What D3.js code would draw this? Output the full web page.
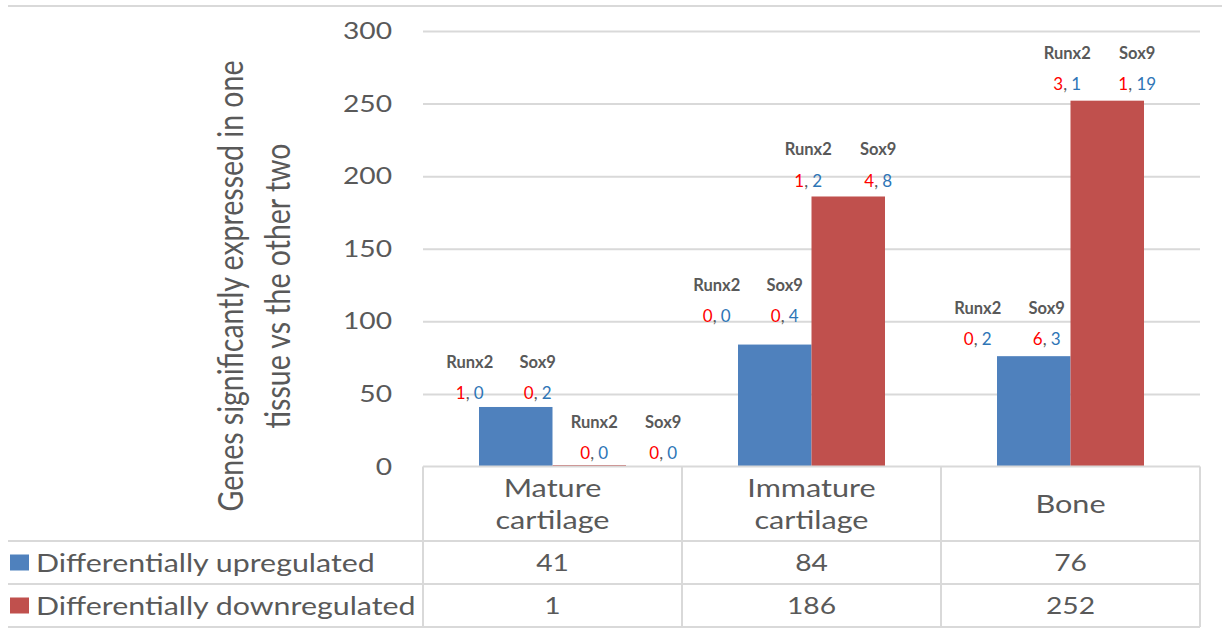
<!DOCTYPE html>
<html>
<head>
<meta charset="utf-8">
<script src="https://cdn.jsdelivr.net/npm/d3@7"></script>
<style>
  html, body { margin: 0; padding: 0; background: #ffffff; }
  svg { display: block; font-family: Lato, "Open Sans", sans-serif; }
</style>
</head>
<body>
<svg id="chart" width="1222" height="631"></svg>
<script>
// ---- data ----
const categories = ["Mature cartilage", "Immature cartilage", "Bone"];
const categoryLines = [["Mature", "cartilage"], ["Immature", "cartilage"], ["Bone"]];
const seriesKeys = ["up", "down"];
const seriesNames = ["Differentially upregulated", "Differentially downregulated"];
const upregulated = [41, 84, 76];
const downregulated = [1, 186, 252];
const yTicks = [0, 50, 100, 150, 200, 250, 300];
const geneNames = ["Runx2", "Sox9"];
// gene counts per bar, as [red count, blue count]
const runx2Up = [[1, 0], [0, 0], [0, 2]];
const sox9Up = [[0, 2], [0, 4], [6, 3]];
const runx2Down = [[0, 0], [1, 2], [3, 1]];
const sox9Down = [[0, 0], [4, 8], [1, 19]];

// ---- layout & style ----
const SX = 1.2; // horizontal stretch of the chart text
const colors = { up: "#4f81bd", down: "#c0504d" };
const gridColor = "#d9d9d9";
const textColor = "#595959";
const plot = { left: 423, right: 1200, top: 31, bottom: 466.5 };
const table = { top: 466.5, row1: 541, row2: 584, bottom: 627, left: 8 };
// callout placement relative to each bar (centre x, top y)
const calloutOffsets = {
  up:   [{ dx: [-46, 22], dy: -45 }, { dx: [-58, 10], dy: -60 }, { dx: [-56, 13], dy: -48 }],
  down: [{ dx: [5, 74],   dy: -43 }, { dx: [-40, 30], dy: -47 }, { dx: [-40, 30], dy: -48 }]
};

const svg = d3.select("#chart");

const x = d3.scaleBand().domain(categories).range([plot.left, plot.right]).padding(0);
const xs = d3.scaleBand().domain(seriesKeys).range([0, x.bandwidth()]).paddingInner(0).paddingOuter(0.762);
const y = d3.scaleLinear().domain([0, 300]).range([plot.bottom, plot.top]);

// outer top border
svg.append("line").attr("x1", 8).attr("x2", 1222).attr("y1", 6).attr("y2", 6)
  .attr("stroke", gridColor).attr("stroke-width", 2);

// gridlines
const grid = svg.append("g").attr("transform", `translate(${plot.left},0)`)
  .call(d3.axisLeft(y).tickValues(yTicks.filter(d => d > 0)).tickSize(-(plot.right - plot.left)).tickFormat(""));
grid.select(".domain").remove();
grid.selectAll("line").attr("stroke", gridColor).attr("stroke-width", 2);

// y axis labels
const yAxis = svg.append("g").attr("transform", `translate(${plot.left},0)`)
  .call(d3.axisLeft(y).tickValues(yTicks).tickSize(0));
yAxis.select(".domain").remove();
yAxis.selectAll("text")
  .attr("x", -31 / SX)
  .attr("transform", `scale(${SX},1)`)
  .attr("fill", textColor)
  .style("font-size", "23.5px")
  .style("font-family", "Lato, sans-serif");

// helper for stretched text
function label(parent, px, py, str, size, anchor) {
  return parent.append("g").attr("transform", `translate(${px},${py}) scale(${SX},1)`)
    .append("text").attr("text-anchor", anchor || "middle").attr("dy", "0.36em")
    .attr("fill", textColor).style("font-size", size + "px").text(str);
}

// y axis title
const titleLines = ["Genes significantly expressed in one", "tissue vs the other two"];
const titleX = [243, 290];
titleLines.forEach((t, i) => {
  svg.append("g").attr("transform", `translate(${titleX[i]},286) scale(${SX},1) rotate(-90)`)
    .append("text").attr("text-anchor", "middle").attr("fill", textColor)
    .style("font-size", "28.5px").text(t);
});

// bars
const barData = [];
categories.forEach((c, i) => {
  barData.push({ cat: c, key: "up", value: upregulated[i], i });
  barData.push({ cat: c, key: "down", value: downregulated[i], i });
});
svg.append("g").selectAll("rect").data(barData).join("rect")
  .attr("x", d => x(d.cat) + xs(d.key))
  .attr("width", xs.bandwidth())
  .attr("y", d => y(d.value))
  .attr("height", d => y(0) - y(d.value))
  .attr("fill", d => colors[d.key]);

// gene callouts above bars
const callouts = svg.append("g");
barData.forEach(d => {
  const counts = d.key === "up" ? [runx2Up[d.i], sox9Up[d.i]] : [runx2Down[d.i], sox9Down[d.i]];
  const off = calloutOffsets[d.key][d.i];
  const cx = x(d.cat) + xs(d.key) + xs.bandwidth() / 2;
  const top = y(d.value);
  geneNames.forEach((g, k) => {
    const gx = cx + off.dx[k];
    callouts.append("text").attr("x", gx).attr("y", top + off.dy).attr("dy", "0.36em")
      .attr("text-anchor", "middle").attr("fill", textColor)
      .style("font-size", "16.5px").style("font-weight", "bold").text(g);
    const t = callouts.append("text").attr("x", gx).attr("y", top + off.dy + 31).attr("dy", "0.36em")
      .attr("text-anchor", "middle").style("font-size", "17px");
    t.append("tspan").attr("fill", "#ff0000").text(counts[k][0]);
    t.append("tspan").attr("fill", textColor).text(", ");
    t.append("tspan").attr("fill", "#2e75b6").text(counts[k][1]);
  });
});

// data table
const tbl = svg.append("g").attr("stroke", gridColor).attr("stroke-width", 2);
tbl.append("line").attr("x1", plot.left).attr("x2", plot.right).attr("y1", table.top).attr("y2", table.top);
[table.row1, table.row2, table.bottom].forEach(yy => {
  tbl.append("line").attr("x1", table.left).attr("x2", plot.right).attr("y1", yy).attr("y2", yy);
});
const colEdges = categories.map(c => x(c)).concat([plot.right]);
colEdges.forEach(xx => {
  tbl.append("line").attr("x1", xx).attr("x2", xx).attr("y1", table.top).attr("y2", table.bottom);
});

// category headers
categories.forEach((c, i) => {
  const cx = x(c) + x.bandwidth() / 2;
  const lines = categoryLines[i];
  const mid = (table.top + table.row1) / 2;
  lines.forEach((ln, k) => {
    const ly = mid + (k - (lines.length - 1) / 2) * 32;
    label(svg, cx, ly, ln, 25.5);
  });
});

// table values
const rows = [upregulated, downregulated];
rows.forEach((vals, r) => {
  const ry = r === 0 ? (table.row1 + table.row2) / 2 : (table.row2 + table.bottom) / 2;
  vals.forEach((v, i) => {
    label(svg, x(categories[i]) + x.bandwidth() / 2, ry, v, 23.5);
  });
  // legend entry
  svg.append("rect").attr("x", 10).attr("y", ry - 8).attr("width", 19).attr("height", 16)
    .attr("fill", colors[seriesKeys[r]]);
  label(svg, 36, ry, seriesNames[r], 25.3, "start");
});
</script>
</body>
</html>
